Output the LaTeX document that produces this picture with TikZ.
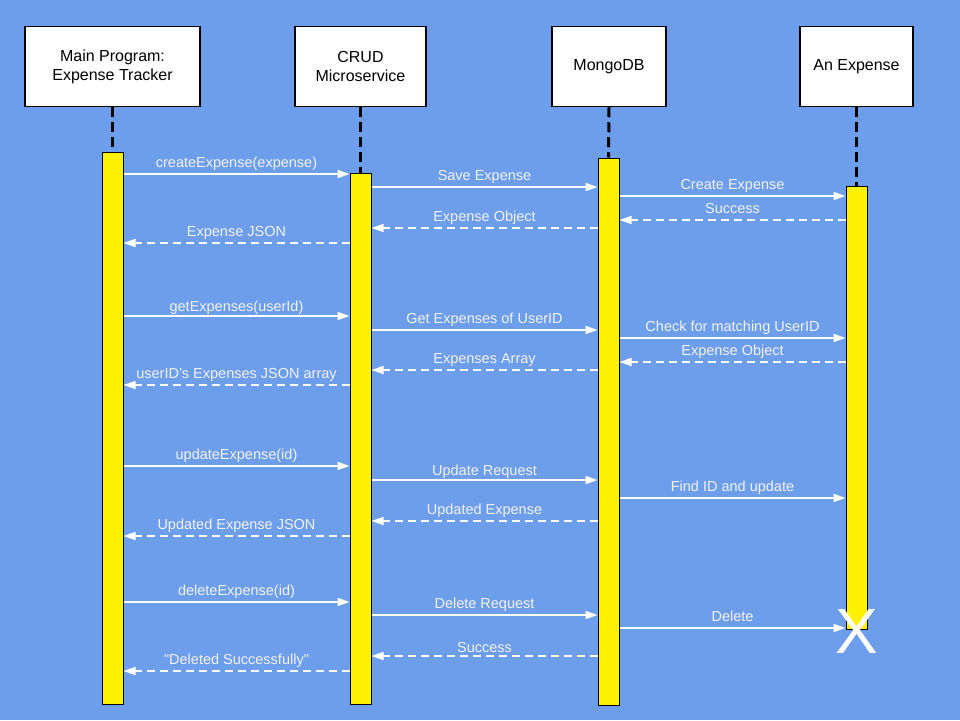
\documentclass[tikz,border=0pt]{standalone}
\usepackage{fontspec}
\setmainfont{Liberation Sans}
\usetikzlibrary{arrows.meta}
\definecolor{bgblue}{HTML}{6D9EEB}
\definecolor{lblwhite}{HTML}{F2F2F2}
\tikzset{
  actor/.style={draw=black, line width=1.5pt, fill=white, inner sep=0pt, align=center, font=\fontsize{16}{19}\selectfont},
  actbar/.style={draw=black, line width=1pt, fill=yellow, inner sep=0pt, minimum width=21pt},
  lifeline/.style={draw=black, line width=3pt, dash pattern=on 10pt off 5pt},
  call/.style={draw=white, line width=1.5pt, -{Triangle[length=12pt,width=8pt]}},
  ret/.style={call, dash pattern=on 8pt off 5pt},
  lbl/.style={midway, anchor=base, yshift=7pt, inner sep=0pt, text=lblwhite, font=\fontsize{14.5}{17}\selectfont}
}
\newcommand{\callmsg}[5][0]{\draw[call] (#2.east |- 0,#4) -- node[lbl, yshift=#1pt]{#5} (#3.west |- 0,#4);}
\newcommand{\retmsg}[5][0]{\draw[ret] (#2.west |- 0,#4) -- node[lbl, yshift=#1pt]{#5} (#3.east |- 0,#4);}
\begin{document}
\begin{tikzpicture}[x=1pt,y=-1pt]
\fill[bgblue] (0,0) rectangle (960,720);
\useasboundingbox (0,0) rectangle (960,720);
% actors
\node[actor, minimum width=175pt, minimum height=80pt] (main) at (112.5,66.5) {Main Program:\\Expense Tracker};
\node[actor, minimum width=131pt, minimum height=80pt] (crud) at (360.5,66.5) {CRUD\\Microservice};
\node[actor, minimum width=114pt, minimum height=80pt] (mongo) at (609,66.5) {MongoDB};
\node[actor, minimum width=113pt, minimum height=80pt] (exp) at (856.5,66.5) {An Expense};
% activation bars
\node[actbar, minimum height=552pt] (b1) at (112.5,428) {};
\node[actbar, minimum height=531pt] (b2) at (360.5,438.5) {};
\node[actbar, minimum height=547pt] (b3) at (608.5,431.5) {};
\node[actbar, minimum height=443pt] (b4) at (856.5,407.5) {};
% lifelines
\draw[lifeline] (main.south) -- (b1.north);
\draw[lifeline] (crud.south) -- (b2.north);
\draw[lifeline] (mongo.south) -- (b3.north);
\draw[lifeline] (exp.south) -- (b4.north);
% create
\callmsg{b1}{b2}{174}{createExpense(expense)}
\callmsg{b2}{b3}{187}{Save Expense}
\callmsg{b3}{b4}{196}{Create Expense}
\retmsg{b4}{b3}{220}{Success}
\retmsg{b3}{b2}{228}{Expense Object}
\retmsg{b2}{b1}{243}{Expense JSON}
% read
\callmsg[-2]{b1}{b2}{316}{getExpenses(userId)}
\callmsg{b2}{b3}{330}{Get Expenses of UserID}
\callmsg{b3}{b4}{338}{Check for matching UserID}
\retmsg{b4}{b3}{362}{Expense Object}
\retmsg{b3}{b2}{370}{Expenses Array}
\retmsg{b2}{b1}{385}{userID’s Expenses JSON array}
% update
\callmsg{b1}{b2}{466}{updateExpense(id)}
\callmsg[-2]{b2}{b3}{480}{Update Request}
\callmsg{b3}{b4}{498}{Find ID and update}
\retmsg{b3}{b2}{521}{Updated Expense}
\retmsg{b2}{b1}{536}{Updated Expense JSON}
% delete
\callmsg{b1}{b2}{602}{deleteExpense(id)}
\callmsg{b2}{b3}{615}{Delete Request}
\callmsg{b3}{b4}{628}{Delete}
\retmsg[-3]{b3}{b2}{656}{Success}
\retmsg{b2}{b1}{671}{\textquotedbl Deleted Successfully\textquotedbl}
% destruction mark
\node[inner sep=0pt, text=white, font=\fontsize{64}{64}\selectfont] (xmark) at (857,631) {X};
\end{tikzpicture}
\end{document}
